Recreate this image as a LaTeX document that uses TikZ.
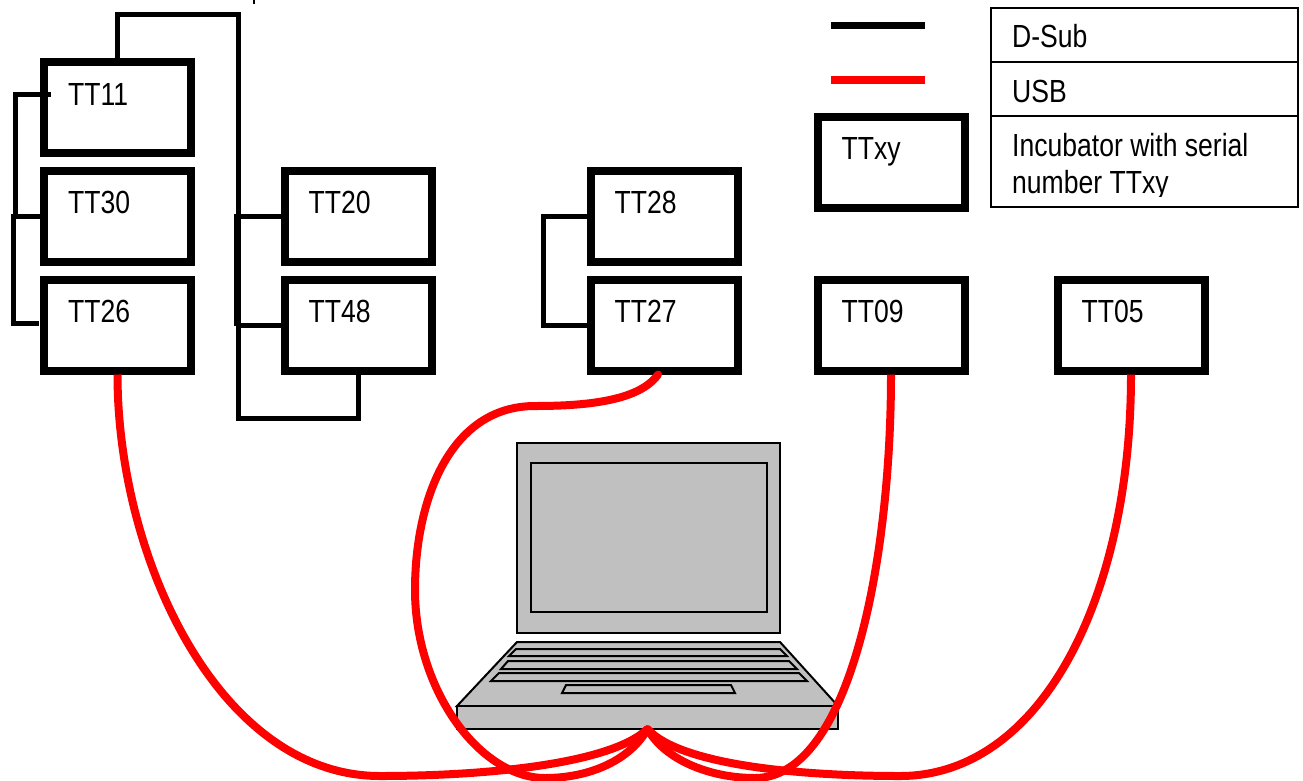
\documentclass[tikz,border=0pt]{standalone}
\usepackage{fontspec}
\setmainfont[FakeStretch=0.83]{Liberation Sans}
\definecolor{lapgray}{HTML}{C0C0C0}
\definecolor{usbred}{HTML}{FF0000}
\tikzset{
  incubox/.style={draw=black,fill=white,line width=8pt,minimum width=147pt,minimum height=91pt,inner sep=0pt,anchor=center},
  boxlabel/.style={anchor=base west,inner sep=0pt,font=\fontsize{32}{32}\selectfont},
  dsub/.style={draw=black,line width=5pt,line cap=butt,line join=miter},
  usb/.style={draw=usbred,line width=8pt,line cap=butt},
  lap/.style={draw=black,fill=lapgray,line width=2pt,line join=miter},
  cell/.style={draw=black,fill=white,line width=2pt,minimum width=307pt,inner sep=0pt,anchor=center},
}
\newcommand{\incub}[3]{%
  \node[incubox] (#1) at (#2,#3) {};
  \node[boxlabel] (#1-t) at ([shift={(28,47)}]#1.north west) {#1};
}
\begin{document}
\begin{tikzpicture}[x=1pt,y=-1pt]
\useasboundingbox (0,0) rectangle (1303,780);
\begin{scope}
\clip (0,0) rectangle (1303,780);
\fill[white] (0,0) rectangle (1303,780);
% stray mark at the top edge
\draw[black,line width=1.5pt] (254,-1) -- (254,4);
% D-Sub connectors
\coordinate (t11in) at (51,94);
\coordinate (n1) at (15,94);
\coordinate (n2) at (15,216);
\coordinate (n3) at (13,216);
\coordinate (n4) at (13,323);
\coordinate (t26in) at (39,323);
\coordinate (m1) at (117.5,14);
\coordinate (m2) at (238,14);
\coordinate (m3) at (238,326);
\coordinate (m4) at (236,214);
\coordinate (m5) at (236,326);
\coordinate (m6) at (238,418);
\coordinate (m7) at (358,418);
\coordinate (m8) at (238,216);
\coordinate (m9) at (238,325);
\coordinate (r1) at (543,216);
\coordinate (r2) at (543,325);
\incub{TT11}{117.5}{107.5}
\incub{TT30}{117.5}{216}
\incub{TT26}{117.5}{325}
\incub{TT20}{358}{216}
\incub{TT48}{358}{325}
\incub{TT28}{664}{216}
\incub{TT27}{664}{325}
\incub{TT09}{891}{325}
\incub{TT05}{1131}{325}
\incub{TTxy}{891}{162}
\draw[dsub] (TT11.north) -- (m1) -- (m2) -- (m3);
\draw[dsub] (m4) -- (m5);
\draw[dsub] (m8) -- (TT20.west);
\draw[dsub] (m9) -- (TT48.west);
\draw[dsub] (TT48.south) -- (m7) -- (m6) -- (m3);
\draw[dsub] (t11in) -- (n1) -- (n2);
\draw[dsub] (TT30.west) -- (n3) -- (n4) -- (t26in);
\draw[dsub] (TT28.west) -- (r1) -- (r2) -- (TT27.west);
% Legend
\coordinate (lb1) at (831,25);
\coordinate (lb2) at (925,25);
\coordinate (lr1) at (831,80);
\coordinate (lr2) at (925,80);
\draw[black,line width=7pt] (lb1) -- (lb2);
\draw[usbred,line width=8pt] (lr1) -- (lr2);
\node[cell,minimum height=54pt] (c1) at (1144.5,35) {};
\node[cell,minimum height=54pt] (c2) at (1144.5,89) {};
\node[cell,minimum height=91pt] (c3) at (1144.5,161.5) {};
\node[boxlabel] (c1t) at (1012,47) {D-Sub};
\node[boxlabel] (c2t) at (1012,102) {USB};
\node[boxlabel] (c3a) at (1012,156) {Incubator with serial};
\begin{scope}
\clip (991,116) rectangle (1298,196);
\node[boxlabel] (c3b) at (1012,193) {number TTxy};
\end{scope}
% Laptop
\node[lap,minimum width=263pt,minimum height=190pt,inner sep=0pt,outer sep=0pt] (screen) at (648.5,538) {};
\node[lap,minimum width=236pt,minimum height=149pt,inner sep=0pt,outer sep=0pt] (display) at (649,537.5) {};
\filldraw[lap] (517,642) -- (780,642) -- (838,706) -- (457,706) -- cycle;
\filldraw[lap] (516,649) -- (780,649) -- (787,656) -- (509,656) -- cycle;
\filldraw[lap] (508,661) -- (789,661) -- (797,669) -- (501,669) -- cycle;
\filldraw[lap] (499,673) -- (799,673) -- (807,681) -- (491,681) -- cycle;
\filldraw[lap] (566,685) -- (731,685) -- (735,693) -- (562,693) -- cycle;
\node[lap,minimum width=381pt,minimum height=23pt,inner sep=0pt,outer sep=0pt] (base) at (647.5,717.5) {};
% USB connectors
\draw[usb] (TT26.south) .. controls (117.5,560) and (220,776) .. (380,776) .. controls (480,776) and (610,765) .. (base.south);
\draw[usb,line cap=round] ([xshift=-6pt]TT27.south) .. controls (640,400) and (590,406) .. (535,406) .. controls (450,406) and (415,500) .. (415,590) .. controls (415,690) and (480,778) .. (545,778) .. controls (590,778) and (630,760) .. (base.south);
\draw[usb] (TT09.south) .. controls (891,560) and (850,778) .. (755,778) .. controls (710,778) and (665,760) .. (base.south);
\draw[usb] (TT05.south) .. controls (1131,600) and (1040,776) .. (900,776) .. controls (800,776) and (680,765) .. (base.south);
\end{scope}
\end{tikzpicture}
\end{document}
